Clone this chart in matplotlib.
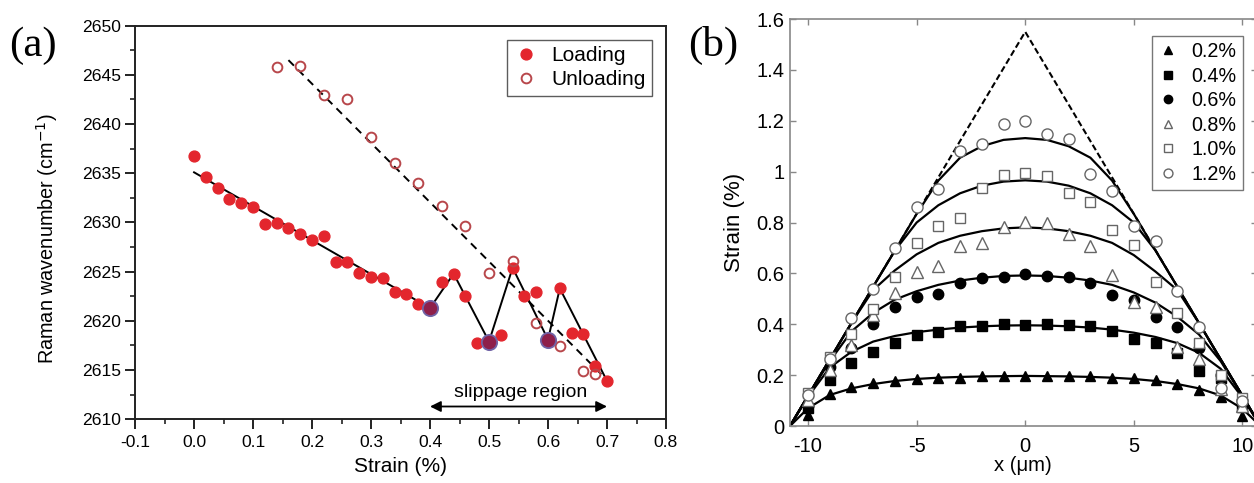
import matplotlib
matplotlib.use("Agg")
import matplotlib.pyplot as plt

plt.rcParams['font.family'] = ['Liberation Sans', 'DejaVu Sans']
plt.rcParams['axes.unicode_minus'] = False

# ---- panel (a): Raman shift vs strain ----
strain_load = [0.00, 0.02, 0.04, 0.06, 0.08, 0.10, 0.12, 0.14, 0.16, 0.18, 0.20, 0.22,
               0.24, 0.26, 0.28, 0.30, 0.32, 0.34, 0.36, 0.38, 0.40, 0.42, 0.44, 0.46,
               0.48, 0.50, 0.52, 0.54, 0.56, 0.58, 0.60, 0.62, 0.64, 0.66, 0.68, 0.70]
raman_load = [2636.8, 2634.6, 2633.5, 2632.4, 2632.0, 2631.6, 2629.8, 2629.9, 2629.4, 2628.8, 2628.2, 2628.6,
              2626.0, 2626.0, 2624.9, 2624.5, 2624.4, 2622.9, 2622.7, 2621.7, 2621.3, 2624.0, 2624.8, 2622.5,
              2617.8, 2617.9, 2618.6, 2625.4, 2622.5, 2622.9, 2618.1, 2623.3, 2618.8, 2618.7, 2615.4, 2613.9]

strain_unload = [0.14, 0.18, 0.22, 0.26, 0.30, 0.34, 0.38, 0.42, 0.46, 0.50, 0.54, 0.58, 0.62, 0.66, 0.68]
raman_unload = [2645.8, 2645.9, 2643.0, 2642.6, 2638.7, 2636.0, 2634.0, 2631.7, 2629.6, 2624.9,
                2626.1, 2619.8, 2617.4, 2614.9, 2614.6]

fit_load_x = [0.0, 0.40, 0.44, 0.50, 0.54, 0.60, 0.62, 0.70]
fit_load_y = [2635.1, 2621.3, 2624.8, 2617.9, 2625.4, 2618.1, 2623.3, 2613.9]
fit_unload_x = [0.16, 0.70]
fit_unload_y = [2646.5, 2614.0]

slip_x = [0.40, 0.50, 0.60]
slip_y = [2621.3, 2617.9, 2618.1]

# ---- panel (b): strain profiles along the flake ----
pos = [-10, -9, -8, -7, -6, -5, -4, -3, -2, -1, 0, 1, 2, 3, 4, 5, 6, 7, 8, 9, 10]
e02 = [0.043, 0.126, 0.152, 0.168, 0.176, 0.185, 0.19, 0.19, 0.195, 0.197, 0.197, 0.197, 0.196, 0.196, 0.19, 0.19, 0.18, 0.166, 0.14, 0.115, 0.038]
e04 = [0.07, 0.181, 0.246, 0.292, 0.328, 0.358, 0.371, 0.394, 0.394, 0.401, 0.397, 0.401, 0.397, 0.393, 0.375, 0.342, 0.328, 0.286, 0.218, 0.19, 0.076]
e06 = [0.08, 0.233, 0.305, 0.40, 0.469, 0.508, 0.519, 0.561, 0.58, 0.587, 0.596, 0.59, 0.587, 0.561, 0.515, 0.495, 0.43, 0.39, 0.305, 0.2, 0.102]
e08 = [0.102, 0.22, 0.32, 0.436, 0.524, 0.607, 0.629, 0.708, 0.72, 0.781, 0.803, 0.797, 0.755, 0.708, 0.594, 0.489, 0.469, 0.312, 0.262, 0.144, 0.08]
e10 = [0.128, 0.272, 0.36, 0.46, 0.584, 0.718, 0.786, 0.816, 0.934, 0.987, 0.993, 0.983, 0.915, 0.882, 0.77, 0.711, 0.567, 0.443, 0.327, 0.2, 0.11]
e12 = [0.12, 0.265, 0.426, 0.537, 0.698, 0.862, 0.93, 1.082, 1.108, 1.187, 1.2, 1.15, 1.127, 0.989, 0.924, 0.787, 0.728, 0.531, 0.39, 0.15, 0.1]

fit_pos = [-10.83, -10, -9, -8, -7, -6, -5, -4, -3, -2, -1, 0, 1, 2, 3, 4, 5, 6, 7, 8, 9, 10, 10.83]
fit02 = [0, 0.07, 0.122, 0.148, 0.165, 0.177, 0.185, 0.19, 0.193, 0.195, 0.196, 0.197, 0.196, 0.195, 0.193, 0.19, 0.185, 0.177, 0.165, 0.148, 0.12, 0.068, 0]
fit04 = [0, 0.115, 0.23, 0.292, 0.332, 0.354, 0.369, 0.379, 0.387, 0.392, 0.395, 0.396, 0.395, 0.392, 0.387, 0.379, 0.367, 0.35, 0.326, 0.288, 0.225, 0.112, 0]
fit06 = [0, 0.119, 0.255, 0.372, 0.445, 0.497, 0.53, 0.555, 0.572, 0.583, 0.59, 0.592, 0.59, 0.583, 0.572, 0.555, 0.525, 0.485, 0.43, 0.36, 0.255, 0.119, 0]
fit08 = [0, 0.119, 0.262, 0.405, 0.535, 0.612, 0.675, 0.72, 0.748, 0.766, 0.777, 0.781, 0.777, 0.766, 0.748, 0.72, 0.672, 0.607, 0.535, 0.405, 0.262, 0.119, 0]
fit10 = [0, 0.119, 0.262, 0.405, 0.548, 0.69, 0.80, 0.868, 0.915, 0.945, 0.961, 0.966, 0.961, 0.945, 0.915, 0.868, 0.80, 0.69, 0.548, 0.405, 0.262, 0.119, 0]
fit12 = [0, 0.119, 0.262, 0.405, 0.548, 0.69, 0.834, 0.965, 1.055, 1.10, 1.125, 1.132, 1.125, 1.10, 1.055, 0.965, 0.834, 0.69, 0.548, 0.405, 0.262, 0.119, 0]
tri_x = [-10.83, 0, 10.83]
tri_y = [0, 1.55, 0]

ytick_b = [0, 0.2, 0.4, 0.6, 0.8, 1.0, 1.2, 1.4, 1.6]
ytick_b_labels = ['0', '0.2', '0.4', '0.6', '0.8', '1', '1.2', '1.4', '1.6']
xtick_b = [-10, -5, 0, 5, 10]

fig = plt.figure(figsize=(12.54, 4.83), dpi=100)

# ================= (a) =================
ax = fig.add_axes([0.1077, 0.1319, 0.4234, 0.8149])
red = '#e3262d'
ax.plot(fit_load_x, fit_load_y, color='black', lw=1.4, zorder=2)
ax.plot(fit_unload_x, fit_unload_y, color='black', lw=1.4, ls=(0, (4, 3)), zorder=2)
ax.plot(strain_load, raman_load, 'o', color=red, ms=7.8, mec=red, label='Loading', zorder=3)
ax.plot(strain_unload, raman_unload, 'o', mfc='none', mec='#b8474b', mew=1.4, ms=7,
        label='Unloading', zorder=3)
ax.plot(slip_x, slip_y, 'o', mfc='#8e1f4a', mec='#7063a6', mew=1.3, ms=11, zorder=4)

ax.annotate('', xy=(0.40, 2611.3), xytext=(0.70, 2611.3),
            arrowprops=dict(arrowstyle='<|-|>', color='black', lw=1.3,
                            mutation_scale=16, shrinkA=0, shrinkB=0))
ax.text(0.553, 2612.7, 'slippage region', ha='center', va='center', fontsize=14)

ax.set_xlim(-0.1, 0.8)
ax.set_ylim(2610, 2650)
ax.set_xticks([-0.1, 0.0, 0.1, 0.2, 0.3, 0.4, 0.5, 0.6, 0.7, 0.8])
ax.set_xticks([-0.05, 0.05, 0.15, 0.25, 0.35, 0.45, 0.55, 0.65, 0.75], minor=True)
ax.set_yticks([2610, 2615, 2620, 2625, 2630, 2635, 2640, 2645, 2650])
ax.set_yticks([2612.5, 2617.5, 2622.5, 2627.5, 2632.5, 2637.5, 2642.5, 2647.5], minor=True)
ax.xaxis.set_major_formatter(matplotlib.ticker.FormatStrFormatter('%.1f'))
ax.tick_params(which='major', direction='out', length=7, width=1.4, labelsize=12.6,
               color='#222222', pad=3)
ax.tick_params(axis='x', which='major', pad=4.5)
ax.tick_params(which='minor', direction='out', length=3.5, width=1.2, color='#222222')
for s in ax.spines.values():
    s.set_linewidth(1.4)
    s.set_color('#222222')
ax.set_xlabel('Strain (%)', fontsize=15, labelpad=5)
ax.set_ylabel('Raman wavenumber (cm$^{-1}$)', fontsize=14.3)
ax.yaxis.set_label_coords(-0.141, 0.46)
ax.legend(loc='upper right', fontsize=15, frameon=True, fancybox=False, edgecolor='#333333',
          handletextpad=0.6, borderpad=0.3, labelspacing=0.25, handlelength=1.2,
          borderaxespad=0, bbox_to_anchor=(0.973, 0.9637))
fig.text(0.007, 0.905, '(a)', fontsize=31, family='Liberation Serif', va='center')

# ================= (b) =================
bx = fig.add_axes([0.63, 0.118, 0.372, 0.8425])
bx.plot(tri_x, tri_y, color='black', lw=1.5, ls=(0, (3, 1.5)), zorder=2)
for fy in [fit02, fit04, fit06, fit08, fit10, fit12]:
    bx.plot(fit_pos, fy, color='black', lw=1.6, zorder=2)

gray = '#666666'
bx.plot(pos, e02, '^', color='black', ms=7.5, ls='none', label='0.2%', zorder=3)
bx.plot(pos, e04, 's', color='black', ms=7, ls='none', label='0.4%', zorder=3)
bx.plot(pos, e06, 'o', color='black', ms=7.5, ls='none', label='0.6%', zorder=3)
bx.plot(pos, e08, '^', mfc='white', mec=gray, mew=1.0, ms=8, ls='none', label='0.8%', zorder=3)
bx.plot(pos, e10, 's', mfc='white', mec=gray, mew=1.0, ms=7.5, ls='none', label='1.0%', zorder=3)
bx.plot(pos, e12, 'o', mfc='white', mec=gray, mew=1.0, ms=8, ls='none', label='1.2%', zorder=3)

bx.set_xlim(-10.83, 10.65)
bx.set_ylim(0, 1.6)
bx.set_xticks(xtick_b)
bx.set_yticks(ytick_b)
bx.set_yticklabels(ytick_b_labels)
bx.tick_params(direction='in', length=4, width=1, color='#888888', labelsize=14.5,
               top=True, right=True, pad=4)
bx.tick_params(axis='x', pad=8)
for s in bx.spines.values():
    s.set_linewidth(1.2)
    s.set_color('#888888')
bx.set_xlabel('x (\u03bcm)', fontsize=14.6, labelpad=0)
bx.set_ylabel('Strain (%)', fontsize=16, labelpad=8)
leg = bx.legend(loc='upper right', fontsize=14.2, frameon=True, fancybox=False, edgecolor='#555555',
                handletextpad=0.7, borderpad=0.3, labelspacing=0.28, handlelength=1.0,
                markerscale=0.8, borderaxespad=0, bbox_to_anchor=(0.970, 0.958))
fig.text(0.549, 0.905, '(b)', fontsize=31, family='Liberation Serif', va='center')

fig.savefig('out.png', dpi=100)
